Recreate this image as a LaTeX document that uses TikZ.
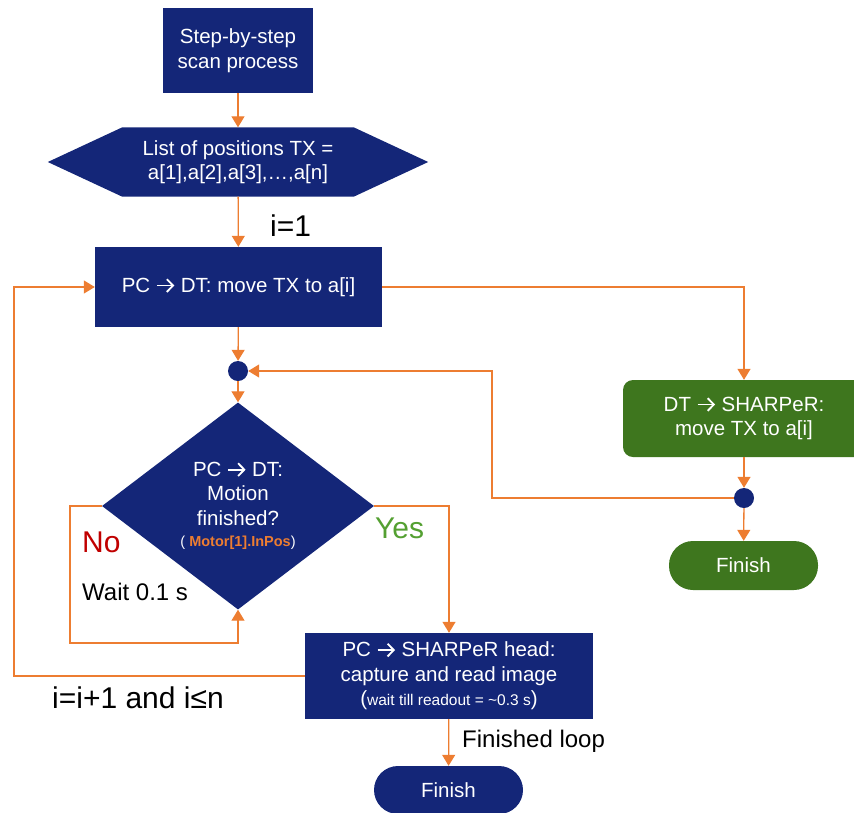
\documentclass[tikz,border=0pt]{standalone}
\usepackage{fontspec}
\setmainfont{Liberation Sans}
\usetikzlibrary{shapes.geometric,arrows.meta}

\definecolor{scanblue}{RGB}{20,38,120}
\definecolor{flowor}{RGB}{237,125,49}
\definecolor{boxgreen}{RGB}{62,118,30}
\definecolor{yesgreen}{RGB}{84,160,50}
\definecolor{nored}{RGB}{192,0,0}

% 文本中的箭头
\newcommand{\flowarrow}{\tikz[baseline=0pt]\draw[white, line width=0.09em,
    -{Straight Barb[length=0.3em,width=0.62em]}] (0,0.33em) -- (0.85em,0.33em);}

\begin{document}
\begin{tikzpicture}[x=1pt, y=-1pt,
    box/.style={fill=scanblue, text=white, align=center, inner sep=0pt,
        font=\fontsize{20.5}{24.5}\selectfont},
    gbox/.style={box, fill=boxgreen},
    dot/.style={circle, fill=scanblue, minimum size=20pt, inner sep=0pt},
    flow/.style={draw=flowor, line width=1.3pt, -{Triangle[width=13pt,length=11pt]}},
    lbl/.style={anchor=base west, inner sep=0pt, font=\fontsize{24}{28}\selectfont},
    biglbl/.style={anchor=base west, inner sep=0pt, font=\fontsize{30}{34}\selectfont}]
    \clip (0,0) rectangle (854,812);

    % --- 主线: 开始, 位置列表, 移动 ---
    \node[box, minimum width=150pt, minimum height=85pt] (start) at (238,50.5) {Step-by-step\\scan process};
    \node[minimum width=231pt, minimum height=69pt, inner sep=0pt] (list) at (238,162) {};
    \fill[scanblue] (list.north west) -- (list.north east) -- ([xshift=74.5pt]list.east)
        -- (list.south east) -- (list.south west) -- ([xshift=-74.5pt]list.west) -- cycle;
    \node[box, fill=none] (listtxt) at (list) {List of positions TX =\\a[1],a[2],a[3],\dots,a[n]};
    \node[box, minimum width=287pt, minimum height=80pt] (move) at (238.5,287) {PC \flowarrow{} DT: move TX to a[i]};
    \node[dot] (join1) at (238,371) {};

    % --- 判断: 运动完成? ---
    \node[box, diamond, minimum width=272pt, minimum height=207pt] (check) at (238,506)
        {PC \flowarrow{} DT:\\Motion\\finished?\\[-3pt]{\fontsize{14.5}{17}\selectfont ( \textcolor{flowor}{\textbf{Motor[1].InPos}})}};
    \node[box, minimum width=288pt, minimum height=86pt] (capture) at (449,676)
        {PC \flowarrow{} SHARPeR head:\\capture and read image\\({\fontsize{15.5}{18}\selectfont wait till readout = \textasciitilde0.3 s})};
    \node[box, rounded corners=24pt, minimum width=149pt, minimum height=48pt] (fin1) at (448.5,790) {Finish};

    % --- 右侧: DT -> SHARPeR ---
    \node[gbox, rounded corners=10pt, minimum width=242pt, minimum height=77pt] (dtbox) at (744,418.5)
        {DT \flowarrow{} SHARPeR:\\move TX to a[i]};
    \node[dot] (join2) at (744,498) {};
    \node[gbox, rounded corners=24pt, minimum width=149pt, minimum height=49pt] (fin2) at (743.5,565.5) {Finish};

    \coordinate (nowait) at (70,643);
    \coordinate (nextpos) at (14,676);
    \coordinate (backturn) at (492,498);

    % --- 连线 ---
    \draw[flow] (start) -- (list);
    \draw[flow] (list) -- (move);
    \draw[flow] (move) -- (join1);
    \draw[flow] (join1) -- (check);
    \draw[flow] (check.west) -| (nowait) -| (check.south);
    \draw[flow] (check.east) -| (capture.north);
    \draw[flow] (capture.west) -- (nextpos) |- (move.west);
    \draw[flow] (capture) -- (fin1);
    \draw[flow] (move.east) -| (dtbox.north);
    \draw[flow] (dtbox) -- (join2);
    \draw[flow] (join2) -- (fin2);
    \draw[flow] (join2.west) -- (backturn) |- (join1.east);

    % --- 标签 ---
    \node[biglbl] (ione) at (270,236) {i=1};
    \node[biglbl, text=nored] (no) at (82,552) {No};
    \node[biglbl, text=yesgreen] (yes) at (375,538) {Yes};
    \node[lbl] (wait) at (82,600) {Wait 0.1 s};
    \node[biglbl] (inext) at (52,708) {i=i+1 and i≤n};
    \node[lbl] (finloop) at (462,747) {Finished loop};
\end{tikzpicture}
\end{document}
